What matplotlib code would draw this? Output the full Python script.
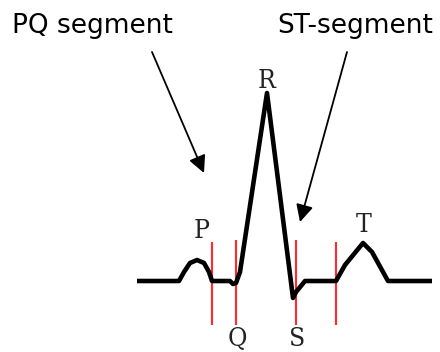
import matplotlib
matplotlib.use("Agg")
import matplotlib.pyplot as plt

# ECG trace (x: time axis, y: amplitude, screen-like units, y grows downward)
ecg_x = [137, 179, 184, 190, 197, 204, 209, 212, 230, 233, 236, 240, 267, 293, 296, 305, 336, 345, 363, 372, 388, 432]
ecg_y = [281, 281, 272, 263, 260, 263, 272, 281, 281, 284, 283, 272, 93, 298, 292, 281, 281, 265, 243, 252, 281, 281]

# red segment markers
marker_x = [212, 236, 296, 336]
marker_top = [242, 240, 240, 242]
marker_bottom = [325, 325, 325, 325]

# wave labels
wave_labels = ["P", "Q", "R", "S", "T"]
wave_x = [202, 237, 267, 297, 364]
wave_y = [238, 346, 88, 346, 232]

# annotations
titles = ["PQ segment", "ST-segment"]
title_x = [12, 277]
title_y = [33, 33]
arrow_start = [(152, 52), (347, 52)]
arrow_end = [(204, 173), (300, 222)]

fig = plt.figure(figsize=(4.4, 3.52), dpi=100)
ax = fig.add_axes([0, 0, 1, 1])
ax.set_xlim(0, 440)
ax.set_ylim(352, 0)
ax.axis("off")

for x, t, b in zip(marker_x, marker_top, marker_bottom):
    ax.plot([x, x], [t, b], color="#ff2a2a", lw=1.5, solid_capstyle="butt", zorder=1)

ax.plot(ecg_x, ecg_y, color="black", lw=3.3, solid_joinstyle="round", solid_capstyle="butt", zorder=2)

for lab, x, y in zip(wave_labels, wave_x, wave_y):
    ax.text(x, y, lab, ha="center", va="baseline", fontsize=19,
            family="DejaVu Serif", fontstretch="condensed", color="#222222")

for t, x, y in zip(titles, title_x, title_y):
    ax.text(x, y, t, ha="left", va="baseline", fontsize=19, family="DejaVu Sans", color="black")

for s, e in zip(arrow_start, arrow_end):
    ax.annotate("", xy=e, xytext=s,
                arrowprops=dict(arrowstyle="-|>", mutation_scale=26, lw=1.3,
                                color="black", shrinkA=0, shrinkB=0))

fig.savefig("out.png", dpi=100)
